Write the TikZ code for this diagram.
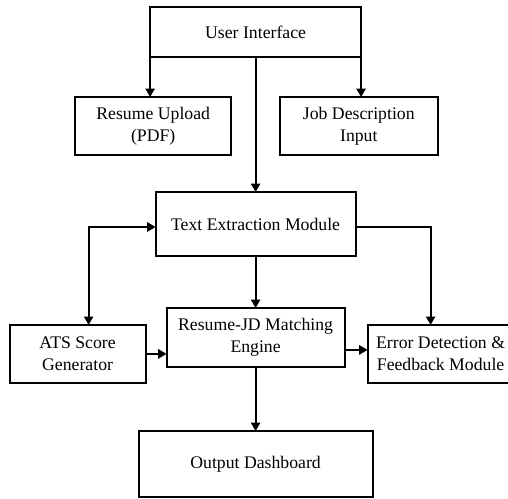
\documentclass[tikz,border=0pt]{standalone}
\usepackage{fontspec}
\setmainfont{Liberation Serif}
\usepackage{tikz}
\usetikzlibrary{positioning,arrows.meta}

\begin{document}
\begin{tikzpicture}[
    font=\fontsize{12.6}{15.5}\selectfont,
    node distance=1.0cm and 0.55cm,
    flowarrow/.style={-{Triangle[length=2.1mm, width=2.3mm]}, line width=1.4pt, draw=black},
    botharrow/.style={{Triangle[length=2.1mm, width=2.3mm]}-{Triangle[length=2.1mm, width=2.3mm]}, line width=1.4pt, draw=black},
    block/.style={
        draw=black,
        line width=1.4pt,
        fill=white,
        align=center,
        inner sep=2pt,
        outer sep=0pt
    },
    topblock/.style={block, minimum width=5.275cm, minimum height=1.25cm},
    inblock/.style={block, minimum width=3.95cm, minimum height=1.45cm},
    midblock/.style={block, minimum width=5.0cm, minimum height=1.6cm},
    sideblock/.style={block, minimum height=1.45cm},
    outblock/.style={block, minimum width=5.85cm, minimum height=1.65cm}
]

% Fixed frame with the proportions of the figure.
\useasboundingbox (0,0) rectangle (12.7,-12.475);

% Top entry point of the application.
\node[topblock] (ui) at (6.39,-0.8) {User Interface};

% The two inputs given through the interface.
\node[inblock, below=1.0cm of ui, xshift=-2.56cm, minimum width=3.9cm] (resume) {Resume Upload\\(PDF)};
\node[inblock, below=1.0cm of ui, xshift=2.58cm] (jobdesc) {Job Description\\Input};

% Text extraction stage.
\node[midblock, below=3.375cm of ui] (extract) {Text Extraction Module};

% Matching engine in the middle row.
\node[block, minimum width=4.45cm, minimum height=1.475cm, below=1.3cm of extract] (match) {Resume-JD Matching\\Engine};

% Side modules next to the matching engine.
\node[sideblock, minimum width=3.4cm, left=0.525cm of match, yshift=-0.41cm] (ats) {ATS Score\\Generator};
\node[sideblock, minimum width=3.65cm, right=0.575cm of match, yshift=-0.41cm] (error) {Error Detection \&\\Feedback Module};

% Final output.
\node[outblock, below=1.6cm of match] (output) {Output Dashboard};

% Interface to inputs and extraction.
\draw[flowarrow] (ui.south west) -- (ui.south west |- resume.north);
\draw[flowarrow] (ui.south east) -- (ui.south east |- jobdesc.north);
\draw[flowarrow] (ui.south) -- (extract.north);

% Extraction to the three modules below.
\draw[botharrow] ([xshift=0.275cm]ats.north) |- ([yshift=-0.075cm]extract.west);
\draw[flowarrow] ([yshift=-0.075cm]extract.east) -| ([xshift=-0.25cm]error.north);
\draw[flowarrow] (extract.south) -- (match.north);

% Side links of the matching engine.
\draw[flowarrow] (ats.east) -- (ats.east -| match.west);
\draw[flowarrow] ([yshift=0.1cm]error.west -| match.east) -- ([yshift=0.1cm]error.west);

% Result to the dashboard.
\draw[flowarrow] (match.south) -- (output.north);

\end{tikzpicture}
\end{document}
